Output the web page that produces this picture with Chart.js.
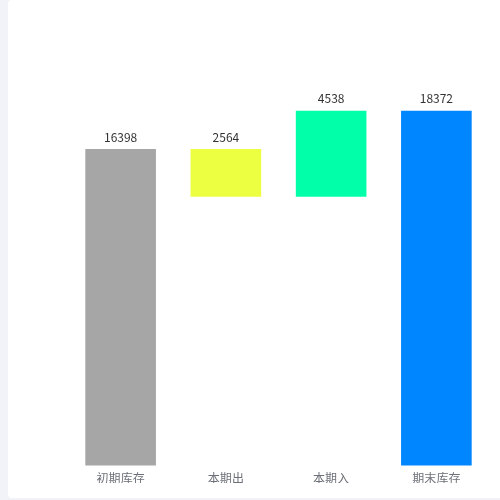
<!DOCTYPE html>
<html>
<head>
<meta charset="utf-8">
<script src="https://cdn.jsdelivr.net/npm/chart.js@4/dist/chart.umd.min.js"></script>
<style>
  html, body { margin: 0; padding: 0; background: #f2f3f8; }
  #panel {
    position: absolute; left: 8px; top: 0; width: 520px; height: 498px;
    background: #fff; border-radius: 4px;
  }
  #wrap { position: absolute; left: 0; top: 0; width: 500px; height: 500px; }
</style>
</head>
<body>
<div id="panel"></div>
<div id="wrap"><canvas id="waterfall"></canvas></div>
<script>
// categories and values (waterfall)
const categories = ['初期库存', '本期出', '本期入', '期末库存'];
const changeValues = [16398, 2564, 4538, 18372];
const barBase = [0, 13834, 13834, 0];
const barColors = ['#a6a6a6', '#ecff40', '#00ffa8', '#0086ff'];

// floating bars: [start, end]
const floatData = categories.map((c, i) => [barBase[i], barBase[i] + changeValues[i]]);

// draw value text above each bar
const valueLabels = {
    id: 'valueLabels',
    afterDatasetsDraw(chart) {
        const ctx = chart.ctx;
        const meta = chart.getDatasetMeta(0);
        ctx.save();
        ctx.font = '12px "Microsoft YaHei", "Noto Sans CJK SC", sans-serif';
        ctx.fillStyle = '#333';
        ctx.textAlign = 'center';
        ctx.textBaseline = 'bottom';
        meta.data.forEach((bar, i) => {
            ctx.fillText(String(changeValues[i]), bar.x, bar.y - 5);
        });
        ctx.restore();
    }
};

const ctx = document.getElementById('waterfall').getContext('2d');
new Chart(ctx, {
    type: 'bar',
    data: {
        labels: categories,
        datasets: [{
            data: floatData,
            backgroundColor: barColors,
            borderColor: 'rgba(255,255,255,0.25)',
            borderWidth: 1,
            borderSkipped: false,
            barPercentage: 0.69,
            categoryPercentage: 1
        }]
    },
    options: {
        responsive: true,
        maintainAspectRatio: false,
        animation: false,
        layout: {
            padding: { left: 68, right: 11, top: 78, bottom: 17 }
        },
        plugins: {
            legend: { display: false },
            tooltip: { enabled: false }
        },
        scales: {
            x: {
                grid: { display: false },
                border: { display: false },
                ticks: {
                    color: '#6e7079',
                    padding: -3,
                    font: { size: 12, family: '"Noto Sans CJK SC", sans-serif' }
                }
            },
            y: {
                display: false,
                min: 0,
                max: 20000
            }
        }
    },
    plugins: [valueLabels]
});
</script>
</body>
</html>
